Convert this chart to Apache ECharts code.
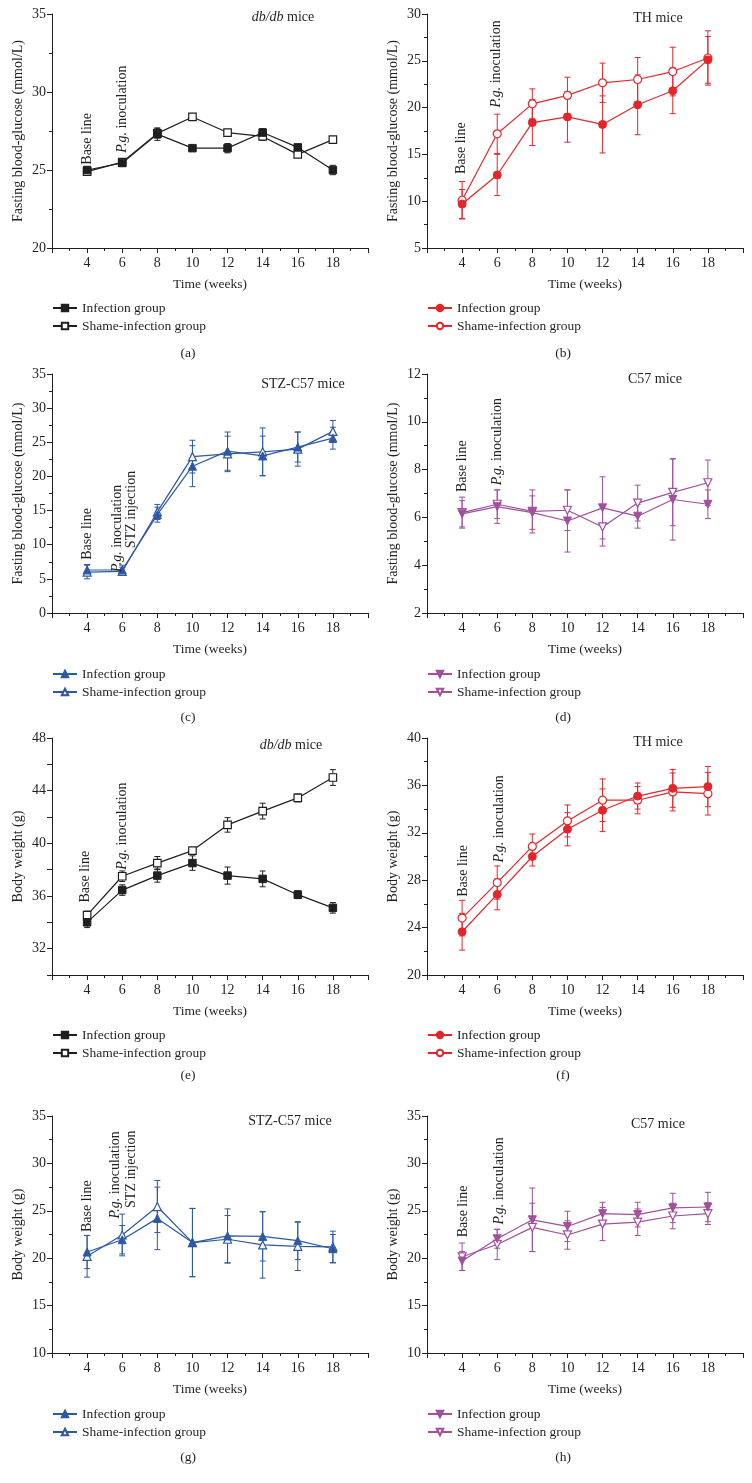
<!DOCTYPE html>
<html><head><meta charset="utf-8">
<script src="https://cdn.jsdelivr.net/npm/echarts@6/dist/echarts.min.js"></script>
<style>html,body{margin:0;padding:0;background:#fff}#c{width:752px;height:1483px}</style>
</head><body><div id="c"></div><script>
// ---------- DATA ----------
const weeks = [4, 6, 8, 10, 12, 14, 16, 18];
const xTickLabels = [4, 6, 8, 10, 12, 14, 16, 18];

// (a) db/db fasting blood glucose
const aInf = [25.0, 25.45, 27.3, 26.4, 26.4, 27.4, 26.45, 25.0];
const aInfErr = [0.15, 0.2, 0.4, 0.15, 0.3, 0.25, 0.15, 0.3];
const aSham = [24.9, 25.5, 27.35, 28.4, 27.4, 27.15, 26.0, 26.95];
const aShamErr = [0.1, 0.15, 0.3, 0.1, 0.1, 0.25, 0.1, 0.1];
// (b) TH fasting blood glucose
const bInf = [9.7, 12.8, 18.4, 19.0, 18.2, 20.3, 21.8, 25.1];
const bInfErr = [1.55, 2.2, 2.45, 2.7, 3.05, 3.2, 2.45, 2.5];
const bSham = [10.1, 17.2, 20.4, 21.3, 22.65, 23.0, 23.85, 25.3];
const bShamErr = [2.0, 2.1, 1.6, 1.95, 2.1, 2.35, 2.6, 2.9];
// (c) STZ-C57 fasting blood glucose
const cInf = [6.3, 6.3, 14.4, 21.5, 23.7, 23.0, 24.3, 25.6];
const cInfErr = [0.8, 0.7, 1.1, 3.0, 2.8, 2.9, 2.2, 1.6];
const cSham = [6.0, 6.1, 14.8, 22.9, 23.3, 23.6, 24.0, 26.6];
const cShamErr = [1.0, 0.6, 1.1, 2.4, 2.6, 3.5, 2.5, 1.6];
// (d) C57 fasting blood glucose
const dInf = [6.15, 6.45, 6.2, 5.85, 6.4, 6.05, 6.75, 6.55];
const dInfErr = [0.55, 0.7, 0.7, 1.3, 1.3, 0.5, 1.7, 0.6];
const dSham = [6.2, 6.55, 6.25, 6.3, 5.6, 6.6, 7.05, 7.45];
const dShamErr = [0.65, 0.6, 0.9, 0.85, 0.8, 0.75, 1.4, 0.95];
// (e) db/db body weight
const eInf = [34.0, 36.45, 37.55, 38.5, 37.55, 37.3, 36.1, 35.1];
const eInfErr = [0.4, 0.4, 0.5, 0.55, 0.65, 0.6, 0.3, 0.4];
const eSham = [34.55, 37.5, 38.5, 39.45, 41.4, 42.45, 43.45, 45.0];
const eShamErr = [0.3, 0.4, 0.5, 0.2, 0.55, 0.6, 0.3, 0.6];
// (f) TH body weight
const fInf = [23.65, 26.8, 30.0, 32.3, 33.9, 35.1, 35.75, 35.9];
const fInfErr = [1.55, 1.3, 0.8, 1.4, 1.8, 1.1, 1.6, 1.7];
const fSham = [24.8, 27.8, 30.85, 33.0, 34.75, 34.75, 35.45, 35.3];
const fShamErr = [1.5, 1.4, 1.05, 1.35, 1.8, 1.15, 1.6, 1.8];
// (g) STZ-C57 body weight
const gInf = [20.65, 21.95, 24.2, 21.65, 22.35, 22.3, 21.85, 21.0];
const gInfErr = [1.75, 1.5, 3.3, 3.6, 2.85, 2.6, 2.0, 1.5];
const gSham = [20.2, 22.45, 25.45, 21.65, 22.0, 21.4, 21.25, 21.2];
const gShamErr = [2.2, 2.2, 2.75, 3.6, 2.5, 3.5, 2.55, 1.65];
// (h) C57 body weight
const hInf = [19.7, 22.05, 24.05, 23.35, 24.7, 24.6, 25.3, 25.4];
const hInfErr = [1.0, 1.0, 3.35, 1.6, 1.2, 1.3, 1.55, 1.55];
const hSham = [20.15, 21.45, 23.25, 22.45, 23.6, 23.8, 24.45, 24.7];
const hShamErr = [1.45, 1.6, 2.55, 1.5, 1.75, 1.4, 1.35, 1.15];

const infName = 'Infection group';
const shamName = 'Shame-infection group';
const gluName = 'Fasting blood-glucose (mmol/L)';
const bwName = 'Body weight (g)';
const xName = 'Time (weeks)';
const baseLineText = 'Base line';
const pgText = '{i|P.g.} inoculation';
const stzText = 'STZ injection';

// ---------- LAYOUT / STYLE ----------
const FONT = '"Liberation Serif", "DejaVu Serif", serif';
const TXT = '#231f20';
const BLACK = '#1f1f1f', RED = '#e4262b', BLUE = '#2d58a3', PURPLE = '#a24f9c';
const LEFT_X = 52, RIGHT_X = 427, GW = 316;
const rows = [
  {top: 14, h: 234, legendTop: 301, capY: 353},
  {top: 374, h: 239, legendTop: 667, capY: 717},
  {top: 738, h: 237, legendTop: 1028, capY: 1075},
  {top: 1116, h: 237, legendTop: 1407, capY: 1457}
];

const panels = [
  {key:'a', col:0, row:0, inf:aInf, infErr:aInfErr, sham:aSham, shamErr:aShamErr, color:BLACK, sym:'rect', rot:0, size:7.5,
   y:{min:20,max:35,interval:5,minor:2}, yName:gluName, title:'{i|db/db} mice', titleXY:[283,17], cap:'(a)',
   notes:[[4,25.34,baseLineText],[6,26.1,pgText]]},
  {key:'b', col:1, row:0, inf:bInf, infErr:bInfErr, sham:bSham, shamErr:bShamErr, color:RED, sym:'circle', rot:0, size:8,
   y:{min:5,max:30,interval:5,minor:2}, yName:gluName, title:'TH mice', titleXY:[658,18], cap:'(b)',
   notes:[[3.95,12.9,baseLineText],[5.95,20.0,pgText]]},
  {key:'c', col:0, row:1, inf:cInf, infErr:cInfErr, sham:cSham, shamErr:cShamErr, color:BLUE, sym:'triangle', rot:0, size:8,
   y:{min:0,max:35,interval:5,minor:2}, yName:gluName, title:'STZ-C57 mice', titleXY:[303,384], cap:'(c)',
   notes:[[4,7.8,baseLineText],[5.7,6.0,pgText],[6.5,9.5,stzText]]},
  {key:'d', col:1, row:1, inf:dInf, infErr:dInfErr, sham:dSham, shamErr:dShamErr, color:PURPLE, sym:'triangle', rot:180, size:8,
   y:{min:2,max:12,interval:2,minor:2}, yName:gluName, title:'C57 mice', titleXY:[655,379], cap:'(d)',
   notes:[[4,7.06,baseLineText],[6,7.35,pgText]]},
  {key:'e', col:0, row:2, inf:eInf, infErr:eInfErr, sham:eSham, shamErr:eShamErr, color:BLACK, sym:'rect', rot:0, size:7.5,
   y:{min:30,max:48,interval:2,minor:0,labelEvery:4}, yName:bwName, title:'{i|db/db} mice', titleXY:[291,745], cap:'(e)',
   notes:[[3.9,35.5,baseLineText],[6,38.0,pgText]]},
  {key:'f', col:1, row:2, inf:fInf, infErr:fInfErr, sham:fSham, shamErr:fShamErr, color:RED, sym:'circle', rot:0, size:8,
   y:{min:20,max:40,interval:4,minor:2}, yName:bwName, title:'TH mice', titleXY:[658,742], cap:'(f)',
   notes:[[4.05,26.6,baseLineText],[6.1,29.5,pgText]]},
  {key:'g', col:0, row:3, inf:gInf, infErr:gInfErr, sham:gSham, shamErr:gShamErr, color:BLUE, sym:'triangle', rot:0, size:8,
   y:{min:10,max:35,interval:5,minor:2}, yName:bwName, title:'STZ-C57 mice', titleXY:[290,1121], cap:'(g)',
   notes:[[4,22.76,baseLineText],[5.6,24.2,pgText],[6.5,25.3,stzText]]},
  {key:'h', col:1, row:3, inf:hInf, infErr:hInfErr, sham:hSham, shamErr:hShamErr, color:PURPLE, sym:'triangle', rot:180, size:8,
   y:{min:10,max:35,interval:5,minor:2}, yName:bwName, title:'C57 mice', titleXY:[658,1124], cap:'(h)',
   notes:[[4.05,22.2,baseLineText],[6.1,23.55,pgText]]}
];

const grids = [], xAxes = [], yAxes = [], series = [], legends = [];
const tickFont = {fontFamily: FONT, fontSize: 14, color: TXT};
const yNameFont = {fontFamily: FONT, fontSize: 14, color: TXT};
const xNameFont = {fontFamily: FONT, fontSize: 13.5, color: TXT};

function errRender(color) {
  return function (params, api) {
    const x = api.value(0);
    const lo = api.coord([x, api.value(1)]);
    const hi = api.coord([x, api.value(2)]);
    const w = 3;
    const st = {stroke: color, lineWidth: 1};
    return {type: 'group', children: [
      {type: 'line', shape: {x1: lo[0], y1: lo[1], x2: hi[0], y2: hi[1]}, style: st},
      {type: 'line', shape: {x1: lo[0] - w, y1: lo[1], x2: lo[0] + w, y2: lo[1]}, style: st},
      {type: 'line', shape: {x1: hi[0] - w, y1: hi[1], x2: hi[0] + w, y2: hi[1]}, style: st}
    ]};
  };
}

panels.forEach((p, i) => {
  const r = rows[p.row];
  const left = p.col === 0 ? LEFT_X : RIGHT_X;
  grids.push({left: left, top: r.top, width: GW, height: r.h, containLabel: false});
  xAxes.push({
    type: 'value', gridIndex: i, min: 2, max: 20, interval: 2,
    name: xName, nameLocation: 'middle', nameGap: 29, nameTextStyle: xNameFont,
    axisLine: {show: true, lineStyle: {color: TXT, width: 1}},
    axisTick: {show: true, inside: false, length: 5, lineStyle: {color: TXT}},
    minorTick: {show: true, splitNumber: 2, length: 3, lineStyle: {color: TXT}},
    splitLine: {show: false}, minorSplitLine: {show: false},
    axisLabel: Object.assign({margin: 8, formatter: v => xTickLabels.indexOf(v) >= 0 ? String(v) : ''}, tickFont)
  });
  const yl = p.y;
  yAxes.push({
    type: 'value', gridIndex: i, min: yl.min, max: yl.max, interval: yl.interval,
    name: p.yName, nameLocation: 'middle', nameGap: 27, nameRotate: 90, nameTextStyle: yNameFont,
    axisLine: {show: true, lineStyle: {color: TXT, width: 1}},
    axisTick: {show: true, inside: false, length: 5, lineStyle: {color: TXT}},
    minorTick: {show: yl.minor > 0, splitNumber: yl.minor || 2, length: 3, lineStyle: {color: TXT}},
    splitLine: {show: false}, minorSplitLine: {show: false},
    axisLabel: Object.assign({margin: 6, formatter: v => (yl.labelEvery && v % yl.labelEvery !== 0) ? '' : String(v)}, tickFont)
  });
  const nInf = infName + '#' + p.key, nSham = shamName + '#' + p.key;
  const infErrData = weeks.map((w, k) => [w, p.inf[k] - p.infErr[k], p.inf[k] + p.infErr[k]]);
  const shamErrData = weeks.map((w, k) => [w, p.sham[k] - p.shamErr[k], p.sham[k] + p.shamErr[k]]);
  series.push({type: 'custom', name: 'errInf' + p.key, xAxisIndex: i, yAxisIndex: i, renderItem: errRender(p.color),
    data: infErrData, encode: {x: 0, y: [1, 2]}, itemStyle: {color: p.color}, z: 1, silent: true});
  series.push({type: 'custom', name: 'errSham' + p.key, xAxisIndex: i, yAxisIndex: i, renderItem: errRender(p.color),
    data: shamErrData, encode: {x: 0, y: [1, 2]}, itemStyle: {color: p.color}, z: 1, silent: true});
  series.push({type: 'line', name: nSham, xAxisIndex: i, yAxisIndex: i,
    data: weeks.map((w, k) => [w, p.sham[k]]),
    symbol: p.sym, symbolSize: p.size, symbolRotate: p.rot, showAllSymbol: true,
    lineStyle: {color: p.color, width: 1.2},
    itemStyle: {color: '#ffffff', borderColor: p.color, borderWidth: 1.2},
    z: 3, animation: false});
  series.push({type: 'line', name: nInf, xAxisIndex: i, yAxisIndex: i,
    data: weeks.map((w, k) => [w, p.inf[k]]),
    symbol: p.sym, symbolSize: p.size, symbolRotate: p.rot, showAllSymbol: true,
    lineStyle: {color: p.color, width: 1.2},
    itemStyle: {color: p.color, borderColor: p.color, borderWidth: 1},
    z: 4, animation: false});
  legends.push({
    data: [nInf, nSham], orient: 'vertical', left: left, top: r.legendTop, padding: 0,
    itemWidth: 24, itemHeight: 8, itemGap: 4, selectedMode: false,
    formatter: n => n.split('#')[0],
    textStyle: {fontFamily: FONT, fontSize: 13.5, color: TXT}
  });
});

const chart = echarts.init(document.getElementById('c'), null, {renderer: 'canvas'});
chart.setOption({
  animation: false,
  backgroundColor: '#ffffff',
  grid: grids, xAxis: xAxes, yAxis: yAxes, series: series, legend: legends
});

// ---------- ANNOTATIONS ----------
const rich = {i: {fontStyle: 'italic', fontFamily: FONT, fontSize: 14, fill: TXT}};
const graphics = [];
panels.forEach((p, i) => {
  p.notes.forEach(n => {
    const pt = chart.convertToPixel({gridIndex: i}, [n[0], n[1]]);
    graphics.push({type: 'text', x: pt[0], y: pt[1], rotation: Math.PI / 2, z: 10,
      style: {text: n[2], font: '14px ' + FONT, fill: TXT, align: 'left', verticalAlign: 'middle', rich: rich}});
  });
  graphics.push({type: 'text', x: p.titleXY[0], y: p.titleXY[1], z: 10,
    style: {text: p.title, font: '14px ' + FONT, fill: TXT, align: 'center', verticalAlign: 'middle', rich: rich}});
  graphics.push({type: 'text', x: p.col === 0 ? 188 : 563, y: rows[p.row].capY, z: 10,
    style: {text: p.cap, font: '13.5px ' + FONT, fill: TXT, align: 'center', verticalAlign: 'middle'}});
});
chart.setOption({graphic: graphics});
</script></body></html>
